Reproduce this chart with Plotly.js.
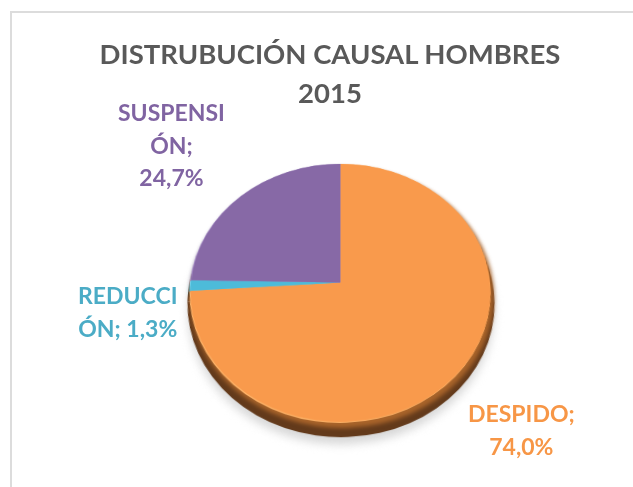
<!DOCTYPE html>
<html>
<head>
<meta charset="utf-8">
<script src="https://cdn.plot.ly/plotly-3.0.1.min.js"></script>
<style>
html,body{margin:0;padding:0;background:#fff;width:633px;height:487px;overflow:hidden}
#frame{position:absolute;left:10px;top:11px;width:640px;height:500px;border-top:2px solid #dcdcdc;border-left:2px solid #dcdcdc}
#chart{position:absolute;left:0;top:0;width:633px;height:487px}
/* tilt only the layer holding the pie, so the circle reads as a 3-D disc */
#chart .main-svg:first-of-type{transform-origin:341px 283px;transform:perspective(962px) rotateX(30.9deg)}
</style>
</head>
<body>
<div id="frame"></div>
<div id="chart"></div>
<script>
var categories = ["DESPIDO", "REDUCCIÓN", "SUSPENSIÓN"];
var shares = [74.0, 1.3, 24.7];
var faceColors = ["#F99A4C", "#4DBBD9", "#8769A6"];
var rimColors = ["#FFB469", "#6FD0EA", "#A48BC4"];
var bevelColors = ["#A9642A", "#2F7F95", "#5A4376"];
var sideColors = ["#633A1B", "#633A1B", "#633A1B"];
var shadowColors = ["#d8d8d8", "#d8d8d8", "#d8d8d8"];
var titleText = "DISTRUBUCIÓN CAUSAL HOMBRES<br>2015";
var labelTexts = ["DESPIDO;<br>74,0%", "REDUCCI<br>ÓN; 1,3%", "SUSPENSI<br>ÓN;<br>24,7%"];
var labelColors = ["#F79646", "#4BACC6", "#8064A2"];

var W = 633, H = 487, CX = 341, CY = 283;
function disc(dx, dy, r, colors) {
  return {
    type: "pie", values: shares, labels: categories, sort: false,
    direction: "clockwise", rotation: 0, textinfo: "none", hoverinfo: "label+percent",
    marker: {colors: colors, line: {width: 0}}, showlegend: false,
    domain: {
      x: [(CX + dx - r) / W, (CX + dx + r) / W],
      y: [1 - (CY + dy + r) / H, 1 - (CY + dy - r) / H]
    }
  };
}
var traces = [
  disc(0, 20, 151, shadowColors),
  disc(0, 12, 152, sideColors),
  disc(1, 4, 151, bevelColors),
  disc(-1, 0, 150, rimColors),
  disc(-0.5, -0.5, 149.5, faceColors)
];
function label(i, x, y) {
  return {text: labelTexts[i], x: x / W, y: 1 - y / H, xref: "paper", yref: "paper",
    xanchor: "center", yanchor: "top", showarrow: false, align: "center",
    font: {family: "Lato, Carlito, sans-serif", size: 23, color: labelColors[i]}};
}
var layout = {
  width: W, height: H, margin: {l: 0, r: 0, t: 0, b: 0},
  paper_bgcolor: "rgba(0,0,0,0)", plot_bgcolor: "rgba(0,0,0,0)",
  showlegend: false,
  title: {text: "<b>" + titleText + "</b>", x: 330 / W, xanchor: "center", y: 1 - 64 / H, yanchor: "top",
    font: {family: "Lato, Carlito, sans-serif", size: 27.5, color: "#595959"}},
  annotations: [label(0, 521, 397), label(1, 127, 279), label(2, 171, 96)].map(function (a) {
    a.text = "<b>" + a.text + "</b>"; return a;
  })
};
Plotly.newPlot("chart", traces, layout, {displayModeBar: false, staticPlot: true}).then(function () {
  var tr = document.querySelectorAll("#chart .pielayer .trace");
  if (tr[0]) tr[0].style.filter = "blur(4px)";
  if (tr[2]) tr[2].style.filter = "blur(2px)";
  if (tr[3]) tr[3].style.filter = "blur(.6px)";
  function spacing(sel, lh) {
    document.querySelectorAll(sel).forEach(function (t) {
      var lines = t.querySelectorAll("tspan.line");
      lines.forEach(function (l, i) { l.setAttribute("dy", (i * lh) + "em"); });
    });
  }
  spacing("#chart .gtitle", 1.42);
  spacing("#chart .annotation text", 1.42);
});
</script>
</body>
</html>
